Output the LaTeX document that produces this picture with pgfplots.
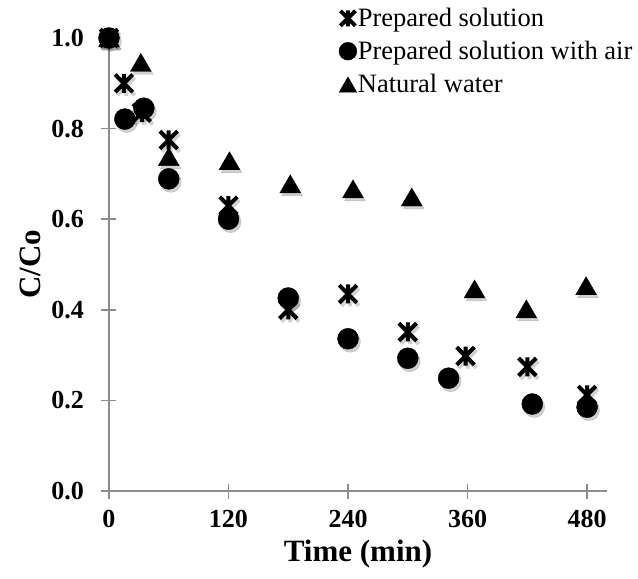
\documentclass[border=0pt]{standalone}
\usepackage{fontspec}
\setmainfont{Liberation Serif}
\usepackage{pgfplots}
\pgfplotsset{compat=1.18}
\usetikzlibrary{calc}

\pgfdeclareplotmark{xstar}{%
  \pgfpathmoveto{\pgfqpoint{-0.88\pgfplotmarksize}{-0.88\pgfplotmarksize}}%
  \pgfpathlineto{\pgfqpoint{0.88\pgfplotmarksize}{0.88\pgfplotmarksize}}%
  \pgfpathmoveto{\pgfqpoint{-0.88\pgfplotmarksize}{0.88\pgfplotmarksize}}%
  \pgfpathlineto{\pgfqpoint{0.88\pgfplotmarksize}{-0.88\pgfplotmarksize}}%
  \pgfpathmoveto{\pgfqpoint{0pt}{-0.95\pgfplotmarksize}}%
  \pgfpathlineto{\pgfqpoint{0pt}{0.95\pgfplotmarksize}}%
  \pgfusepathqstroke}

\pgfplotstableread{
t c
0 1.00
15 0.90
33 0.835
60 0.775
120 0.63
180 0.40
240 0.435
300 0.351
358 0.298
420 0.274
480 0.212
}\prep

\pgfplotstableread{
t c
0 1.00
16 0.821
35 0.845
60 0.689
120 0.60
180 0.426
240 0.336
300 0.293
341 0.249
425 0.192
480 0.185
}\air

\pgfplotstableread{
t c
0 1.00
32 0.946
60 0.738
121 0.729
182 0.678
245 0.667
304 0.649
367 0.446
419 0.402
479 0.453
}\natural

\definecolor{axgray}{RGB}{140,140,140}

\begin{document}
\begin{tikzpicture}
\begin{axis}[
  name=ax,
  scale only axis,
  width=506pt, height=453pt,
  xmin=-8, xmax=500, ymin=0, ymax=1,
  axis lines=middle,
  axis line style={-, draw=axgray, line width=1.6pt},
  hide obscured x ticks=false, hide obscured y ticks=false,
  xtick={0,120,240,360,480},
  ytick={0,0.2,0.4,0.6,0.8,1},
  tick align=center,
  major tick length=15pt,
  tick style={draw=axgray, line width=1.6pt},
  /pgf/number format/assume math mode=true,
  ticklabel style={font=\fontsize{26}{30}\selectfont\bfseries},
  xticklabel style={yshift=-8pt},
  yticklabel style={xshift=-14pt, /pgf/number format/.cd, fixed, fixed zerofill, precision=1},
  xlabel={Time (min)},
  ylabel={C/Co},
  xlabel style={at={(axis description cs:0.508,-0.14)}, anchor=center, font=\fontsize{31}{36}\selectfont\bfseries},
  ylabel style={at={(axis description cs:-0.140,0.5)}, anchor=center, rotate=90, font=\fontsize{31}{36}\selectfont\bfseries},
  clip=false,
  legend style={at={(0.470,1.068)}, anchor=north west, draw=none, fill=none,
    font=\fontsize{26.5}{30}\selectfont, row sep=11pt, inner sep=0pt,
    nodes={inner sep=1pt}},
  legend cell align=left,
  legend image code/.code={\draw[#1, mark repeat=2, mark phase=2, every mark/.append style={scale=0.85}] plot coordinates {(0pt,0pt) (10pt,0pt) (20pt,0pt)};},
]
% shadows
\addplot[only marks, forget plot, mark=xstar, mark size=10pt, draw=black, opacity=0.18, line width=4pt,
  mark options={xshift=2pt, yshift=-3pt}] table[x=t,y=c] {\prep};
\addplot[only marks, forget plot, mark=*, mark size=10.5pt, draw=none, fill=black, opacity=0.18,
  mark options={xshift=2pt, yshift=-3pt}] table[x=t,y=c] {\air};
\addplot[only marks, forget plot, mark=triangle*, mark size=12pt, draw=none, fill=black, opacity=0.18,
  mark options={xshift=2pt, yshift=-6pt}] table[x=t,y=c] {\natural};
% series
\addplot[only marks, mark=xstar, mark size=10pt, draw=black, line width=4pt] table[x=t,y=c] {\prep};
\addlegendentry{Prepared solution}
\addplot[only marks, mark=*, mark size=10.5pt, draw=black, fill=black] table[x=t,y=c] {\air};
\addlegendentry{Prepared solution with air}
\addplot[only marks, mark=triangle*, mark size=12pt, draw=black, fill=black, mark options={yshift=-3pt}] table[x=t,y=c] {\natural};
\addlegendentry{Natural water}
\end{axis}
\path[use as bounding box] ($(ax.south west)+(-101pt,-88pt)$) rectangle ($(ax.south west)+(537pt,491pt)$);
\end{tikzpicture}
\end{document}
